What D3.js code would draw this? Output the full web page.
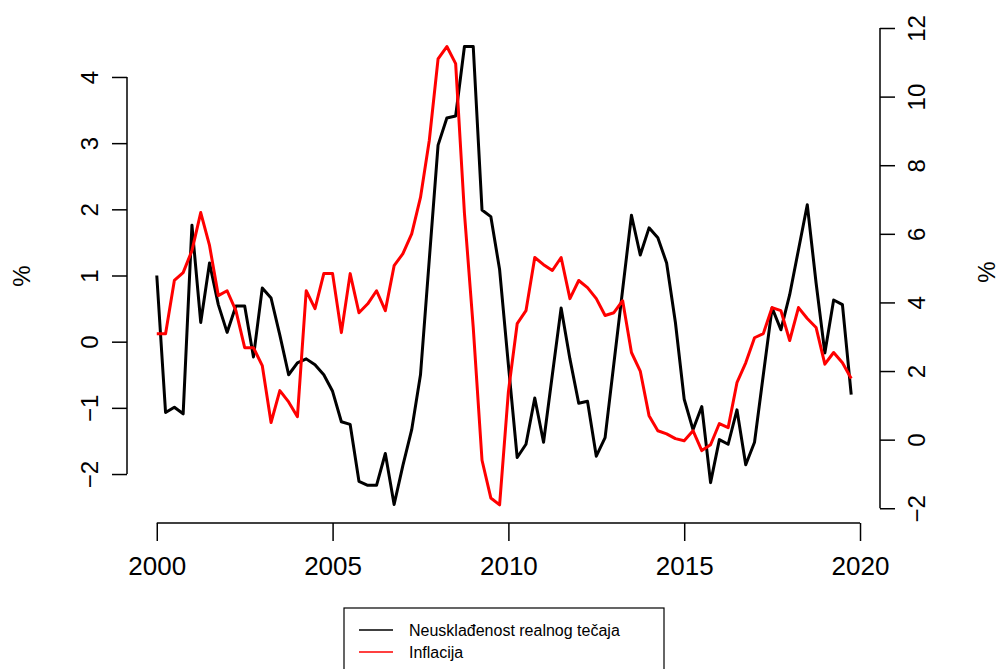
<!DOCTYPE html>
<html>
<head>
<meta charset="utf-8">
<script src="https://cdn.jsdelivr.net/npm/d3@7"></script>
<style>
  body { margin: 0; background: #fff; }
  text { font-family: "Liberation Sans", Arial, sans-serif; fill: #000; }
</style>
</head>
<body>
<div id="svg-area"></div>
<script>
var svgWidth = 999;
var svgHeight = 669;

// quarterly data 2000Q1 - 2019Q4
var startYear = 2000;

// real exchange rate misalignment (left axis, %)
var misalignment = [
  1.0, -1.07, -0.99, -1.09,
  1.76, 0.29, 1.19, 0.56,
  0.14, 0.54, 0.54, -0.23,
  0.81, 0.66, 0.1, -0.5,
  -0.32, -0.26, -0.35, -0.5,
  -0.75, -1.21, -1.25, -2.11,
  -2.17, -2.17, -1.69, -2.46,
  -1.87, -1.33, -0.5, 1.24,
  2.97, 3.38, 3.41, 4.46,
  4.46, 1.99, 1.89, 1.09,
  -0.35, -1.75, -1.55, -0.85,
  -1.52, -0.5, 0.51, -0.26,
  -0.93, -0.9, -1.73, -1.45,
  -0.33, 0.79, 1.91, 1.31,
  1.72, 1.57, 1.19, 0.29,
  -0.87, -1.33, -0.98, -2.13,
  -1.48, -1.55, -1.03, -1.86,
  -1.52, -0.5, 0.51, 0.18,
  0.71, 1.39, 2.07, 0.89,
  -0.17, 0.63, 0.56, -0.8
];

// inflation (right axis, %)
var inflation = [
  3.09, 3.09, 4.64, 4.87,
  5.51, 6.62, 5.66, 4.2,
  4.34, 3.76, 2.68, 2.68,
  2.16, 0.5, 1.43, 1.1,
  0.67, 4.34, 3.82, 4.84,
  4.84, 3.12, 4.84, 3.7,
  3.96, 4.34, 3.76, 5.07,
  5.42, 6.0, 7.06, 8.72,
  11.1, 11.46, 10.96, 6.6,
  3.27, -0.6, -1.7, -1.9,
  1.4, 3.38, 3.76, 5.31,
  5.1, 4.93, 5.31, 4.11,
  4.64, 4.43, 4.11, 3.62,
  3.7, 4.05, 2.54, 2.0,
  0.7, 0.26, 0.17, 0.03,
  -0.03, 0.26, -0.32, -0.15,
  0.47, 0.35, 1.66, 2.24,
  2.97, 3.09, 3.85, 3.76,
  2.89, 3.85, 3.53, 3.27,
  2.2, 2.54, 2.24, 1.78
];

var xTicks = [2000, 2005, 2010, 2015, 2020];
var leftTicks = [-2, -1, 0, 1, 2, 3, 4];
var rightTicks = [-2, 0, 2, 4, 6, 8, 10, 12];
var seriesNames = ["Neusklađenost realnog tečaja", "Inflacija"];
var seriesColors = ["#000000", "#ff0000"];

var plot = { left: 129, right: 879, top: 28, bottom: 523 };

var svg = d3.select("#svg-area")
  .append("svg")
  .attr("width", svgWidth)
  .attr("height", svgHeight);

var x = d3.scaleLinear().domain([1999.21, 2020.54]).range([plot.left, plot.right]);
var yLeft = d3.scaleLinear().domain([-2.74, 4.74]).range([plot.bottom, plot.top]);
var yRight = d3.scaleLinear().domain([-2.43, 12.0]).range([plot.bottom, plot.top]);

var date = function(i) { return startYear + i * 0.25; };

// lines
var leftLine = d3.line()
  .x(function(d, i) { return x(date(i)); })
  .y(function(d) { return yLeft(d); });
var rightLine = d3.line()
  .x(function(d, i) { return x(date(i)); })
  .y(function(d) { return yRight(d); });

svg.append("path")
  .attr("d", leftLine(misalignment))
  .attr("fill", "none")
  .attr("stroke", seriesColors[0])
  .attr("stroke-width", 3)
  .attr("stroke-linejoin", "round");

svg.append("path")
  .attr("d", rightLine(inflation))
  .attr("fill", "none")
  .attr("stroke", seriesColors[1])
  .attr("stroke-width", 3)
  .attr("stroke-linejoin", "round");

// axes, R style: labels parallel to axis
var bottomAxis = d3.axisBottom(x).tickValues(xTicks).tickFormat(d3.format("d"))
  .tickSizeOuter(0).tickSizeInner(18).tickPadding(16);
var gx = svg.append("g")
  .attr("transform", "translate(0," + plot.bottom + ")")
  .call(bottomAxis);
gx.select(".domain").attr("d", "M" + x(2000) + ",0H" + x(2020));
gx.selectAll("text").style("font-size", "26px");

var leftAxis = d3.axisLeft(yLeft).tickValues(leftTicks).tickFormat(d3.format("d"))
  .tickSizeOuter(0).tickSizeInner(15);
var gl = svg.append("g")
  .attr("transform", "translate(" + (plot.left - 2) + ",0)")
  .call(leftAxis);
gl.select(".domain").attr("d", "M0," + yLeft(-2) + "V" + yLeft(4));
gl.selectAll(".tick text")
  .attr("x", 0).attr("dy", null)
  .attr("transform", "translate(-38,0) rotate(-90)")
  .attr("text-anchor", "middle")
  .attr("dominant-baseline", "central")
  .style("font-size", "24px");

var rightAxis = d3.axisRight(yRight).tickValues(rightTicks).tickFormat(d3.format("d"))
  .tickSizeOuter(0).tickSizeInner(15);
var gr = svg.append("g")
  .attr("transform", "translate(" + (plot.right + 1) + ",0)")
  .call(rightAxis);
gr.select(".domain").attr("d", "M0," + yRight(-2) + "V" + yRight(12));
gr.selectAll(".tick text")
  .attr("x", 0).attr("dy", null)
  .attr("transform", "translate(36,0) rotate(-90)")
  .attr("text-anchor", "middle")
  .attr("dominant-baseline", "central")
  .style("font-size", "24px");

svg.selectAll(".domain, .tick line").attr("stroke", "#000").attr("stroke-width", 1.5);

// axis titles
svg.append("text")
  .attr("transform", "translate(21,276) rotate(-90)")
  .attr("text-anchor", "middle")
  .attr("dominant-baseline", "central")
  .style("font-size", "24px")
  .text("%");
svg.append("text")
  .attr("transform", "translate(986,272) rotate(-90)")
  .attr("text-anchor", "middle")
  .attr("dominant-baseline", "central")
  .style("font-size", "24px")
  .text("%");

// legend
var legend = svg.append("g");
legend.append("rect")
  .attr("x", 344).attr("y", 608)
  .attr("width", 320).attr("height", 80)
  .attr("fill", "#fff").attr("stroke", "#000").attr("stroke-width", 1.2);

seriesNames.forEach(function(name, i) {
  var yy = 630 + i * 22;
  legend.append("line")
    .attr("x1", 359).attr("x2", 393)
    .attr("y1", yy).attr("y2", yy)
    .attr("stroke", seriesColors[i]).attr("stroke-width", 1.5);
  legend.append("text")
    .attr("x", 409).attr("y", yy)
    .attr("dominant-baseline", "central")
    .style("font-size", "16px")
    .text(name);
});
</script>
</body>
</html>
